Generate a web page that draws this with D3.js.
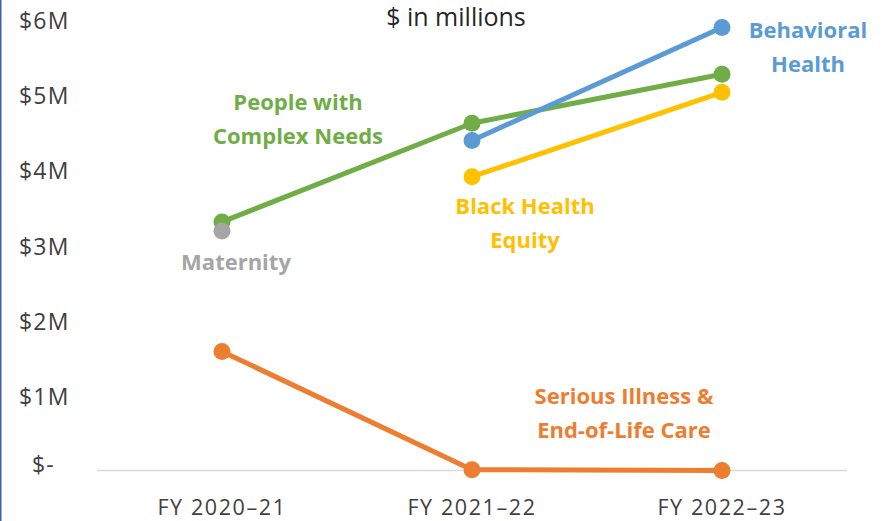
<!DOCTYPE html>
<html>
<head>
<meta charset="utf-8">
<script src="https://cdnjs.cloudflare.com/ajax/libs/d3/7.8.5/d3.min.js"></script>
<style>
  body { margin: 0; background: #fff; }
  svg text { font-family: "Open Sans", Lato, sans-serif; }
</style>
</head>
<body>
<div id="chart"></div>
<script>
// fiscal years on the x axis
var years = ["FY 2020\u201321", "FY 2021\u201322", "FY 2022\u201323"];
var yTicks = [0, 1, 2, 3, 4, 5, 6];

// values in $ millions, null = no spending that year
var complexNeeds = [3.30, 4.61, 5.26];
var behavioral = [null, 4.38, 5.88];
var blackEquity = [null, 3.90, 5.02];
var maternity = [3.18, null, null];
var seriousIllness = [1.58, 0.01, 0.0];

var series = [
  { name: ["People with", "Complex Needs"], values: complexNeeds, color: "#70AD47", lx: 298, ly: 102 },
  { name: ["Behavioral", "Health"], values: behavioral, color: "#5B9BD5", lx: 808, ly: 30 },
  { name: ["Black Health", "Equity"], values: blackEquity, color: "#FFC000", lx: 525, ly: 206 },
  { name: ["Maternity"], values: maternity, color: "#A5A5A5", lx: 236, ly: 262 },
  { name: ["Serious Illness &", "End-of-Life Care"], values: seriousIllness, color: "#ED7D31", lx: 624, ly: 396 }
];

var width = 889, height = 521;
var margin = { top: 18.5, right: 42, bottom: 50.5, left: 97 };

var svg = d3.select("#chart").append("svg")
  .attr("width", width)
  .attr("height", height);

// thin blue border on the left edge
svg.append("line")
  .attr("x1", 0.75).attr("x2", 0.75)
  .attr("y1", 0).attr("y2", height)
  .style("stroke", "#3F63A8")
  .style("stroke-width", 1.5);

var x = d3.scalePoint()
  .domain(years)
  .range([margin.left, width - margin.right])
  .padding(0.5);

var y = d3.scaleLinear()
  .domain([0, 6])
  .range([height - margin.bottom, margin.top]);

// baseline
svg.append("line")
  .attr("x1", margin.left).attr("x2", width - margin.right)
  .attr("y1", y(0)).attr("y2", y(0))
  .style("stroke", "#d9d9d9")
  .style("stroke-width", 1.5);

// y axis labels
svg.selectAll(".ylab")
  .data(yTicks)
  .enter().append("text")
  .attr("class", "ylab")
  .attr("x", function(d) { return d === 0 ? 32 : 19; })
  .attr("y", function(d) { return y(d) + (d === 0 ? -6 : 2); })
  .attr("dy", "0.35em")
  .style("font-size", "23px")
  .style("letter-spacing", "1.2px")
  .style("fill", "#404040")
  .text(function(d) { return d === 0 ? "$-" : "$" + d + "M"; });

// x axis labels
svg.selectAll(".xlab")
  .data(years)
  .enter().append("text")
  .attr("class", "xlab")
  .attr("x", function(d) { return x(d); })
  .attr("y", 507)
  .attr("dy", "0.35em")
  .attr("text-anchor", "middle")
  .style("font-size", "21.5px")
  .style("letter-spacing", "1.6px")
  .style("fill", "#404040")
  .text(function(d) { return d; });

// title
svg.append("text")
  .attr("x", 456)
  .attr("y", 17)
  .attr("dy", "0.35em")
  .attr("text-anchor", "middle")
  .style("font-size", "25px")
  .style("fill", "#262626")
  .text("$ in millions");

var line = d3.line()
  .defined(function(d) { return d.v !== null; })
  .x(function(d) { return x(d.year); })
  .y(function(d) { return y(d.v); });

series.forEach(function(s) {
  var pts = s.values.map(function(v, i) { return { year: years[i], v: v }; });
  svg.append("path")
    .datum(pts)
    .attr("d", line)
    .style("fill", "none")
    .style("stroke", s.color)
    .style("stroke-width", 5)
    .style("stroke-linejoin", "round");
  svg.selectAll(null)
    .data(pts.filter(function(d) { return d.v !== null; }))
    .enter().append("circle")
    .attr("cx", function(d) { return x(d.year); })
    .attr("cy", function(d) { return y(d.v); })
    .attr("r", 8.5)
    .style("fill", s.color);
});

// series labels
series.forEach(function(s) {
  var t = svg.append("text")
    .attr("text-anchor", "middle")
    .style("font-size", "22px")
    .style("font-weight", "bold")
    .style("fill", s.color);
  s.name.forEach(function(part, i) {
    t.append("tspan")
      .attr("x", s.lx)
      .attr("y", s.ly + i * 34)
      .attr("dy", "0.35em")
      .text(part);
  });
});
</script>
</body>
</html>
